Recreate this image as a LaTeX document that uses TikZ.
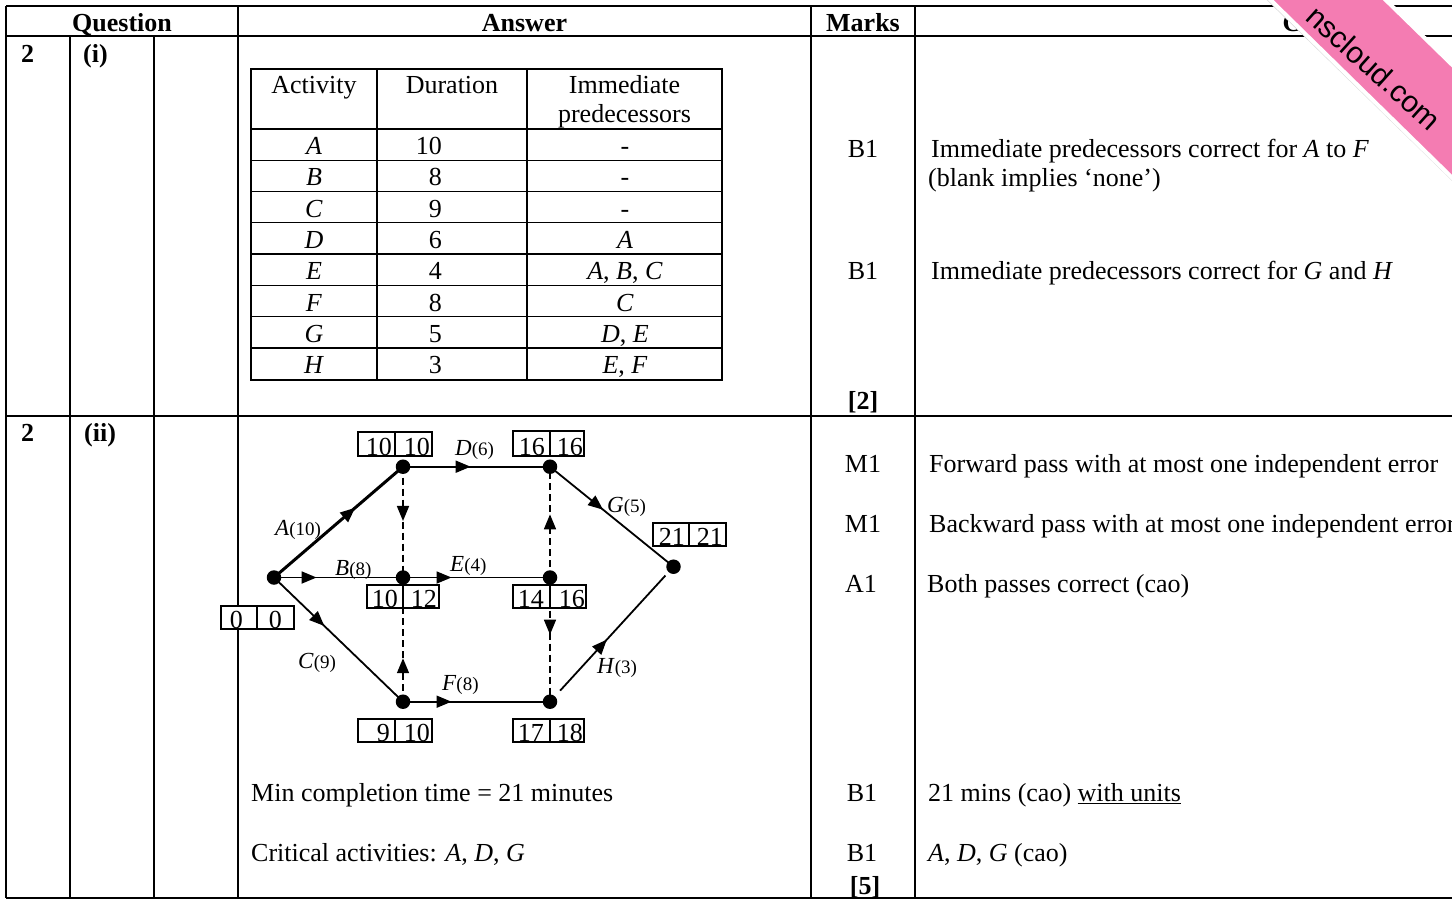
\documentclass[tikz,border=0pt]{standalone}
\usepackage{fontspec}
\setmainfont{Liberation Serif}
\newfontfamily\wmfont{Liberation Sans}
\usetikzlibrary{arrows.meta,decorations.markings}
\definecolor{wmpink}{RGB}{244,124,178}
\newcommand\smallpar[1]{{\fontsize{19}{22}\selectfont #1}}
\begin{document}
\begin{tikzpicture}[x=1pt,y=-1pt,
  txt/.style={inner sep=0pt, font=\fontsize{26}{31}\selectfont},
  bld/.style={inner sep=0pt, font=\fontsize{26}{31}\selectfont\bfseries},
  gridline/.style={line width=1.3pt},
  tabline/.style={line width=1.2pt},
  boxline/.style={line width=1.2pt, fill=white},
  dot/.style={circle, fill=black, inner sep=0pt, minimum size=14.5pt},
  act/.style={line width=1.8pt},
  dum/.style={line width=1.6pt, dash pattern=on 7pt off 4pt},
  tipat/.style={postaction={decorate}, decoration={markings, mark=at position #1 with {\arrow{Triangle[length=15pt,width=12pt]}}}},
  lab/.style={inner sep=0pt, anchor=base west, font=\fontsize{23}{27}\selectfont},
  num/.style={inner sep=0pt, anchor=base east, font=\fontsize{26}{31}\selectfont},
]
\useasboundingbox (0,0) rectangle (1452,900);
\clip (0,0) rectangle (1452,900);
\fill[white] (0,0) rectangle (1452,900);

% ---------- grid ----------
\draw[gridline] (6,6) -- (1460,6);
\draw[gridline] (6,36) -- (1460,36);
\draw[gridline] (6,416) -- (1460,416);
\draw[gridline] (6,898) -- (1460,898);
\draw[gridline] (6,6) -- (6,898);
\draw[gridline] (70,36) -- (70,898);
\draw[gridline] (154,36) -- (154,898);
\draw[gridline] (238,6) -- (238,898);
\draw[gridline] (811,6) -- (811,898);
\draw[gridline] (915,6) -- (915,898);

% ---------- headers ----------
\node[bld, anchor=base] (hq) at (122,31.5) {Question};
\node[bld, anchor=base] (ha) at (524.5,31.5) {Answer};
\node[bld, anchor=base] (hm) at (863,31.5) {Marks};
\node[bld, anchor=base] (hg) at (1336,31.5) {Guidance};

\node[bld, anchor=base west] (q1) at (21,62.5) {2};
\node[bld, anchor=base west] (p1) at (83,62.5) {(i)};
\node[bld, anchor=base west] (q2) at (21,441.5) {2};
\node[bld, anchor=base west] (p2) at (84,441.5) {(ii)};

% ---------- table ----------
\draw[tabline] (251,69) rectangle (722,380);
\draw[tabline] (377,69) -- (377,380);
\draw[tabline] (527,69) -- (527,380);
\foreach \yy in {129,160.5,191.7,222.8,254,285.3,316.6,348}
  \draw[tabline] (251,\yy) -- (722,\yy);
\node[txt, anchor=base] (th1) at (314,93) {Activity};
\node[txt, anchor=base] (th2) at (452,93) {Duration};
\node[txt, anchor=base] (th3) at (624.5,93) {Immediate};
\node[txt, anchor=base] (th4) at (624.5,122) {predecessors};
\foreach \a/\d/\p [count=\i from 0] in {A/10/-, B/8/-, C/9/-, D/6/\textit{A}, E/4/{\textit{A}, \textit{B}, \textit{C}}, F/8/\textit{C}, G/5/{\textit{D}, \textit{E}}, H/3/{\textit{E}, \textit{F}}}{
  \node[txt, anchor=base] (ta\i) at (314,{154.5+31.3*\i}) {\textit{\a}};
  \node[txt, anchor=base east] (td\i) at (442,{154.5+31.3*\i}) {\d};
  \node[txt, anchor=base] (tp\i) at (625,{154.5+31.3*\i}) {\p};
}

% ---------- marks & guidance (i) ----------
\node[txt, anchor=base] (m1) at (863,157.5) {B1};
\node[txt, anchor=base] (m2) at (863,279.5) {B1};
\node[bld, anchor=base] (m3) at (863,409) {[2]};
\node[txt, anchor=base west] (g1) at (931,157.5) {Immediate predecessors correct for \textit{A} to \textit{F}};
\node[txt, anchor=base west] (g2) at (928,186.5) {(blank implies ‘none’)};
\node[txt, anchor=base west] (g3) at (931,279.5) {Immediate predecessors correct for \textit{G} and \textit{H}};

% ---------- marks & guidance (ii) ----------
\node[txt, anchor=base] (m4) at (863,472.5) {M1};
\node[txt, anchor=base] (m5) at (863,532.5) {M1};
\node[txt, anchor=base] (m6) at (861,592.5) {A1};
\node[txt, anchor=base] (m7) at (862,801.5) {B1};
\node[txt, anchor=base] (m8) at (862,861.5) {B1};
\node[bld, anchor=base] (m9) at (865,894) {[5]};
\node[txt, anchor=base west] (g4) at (929,472.5) {Forward pass with at most one independent error};
\node[txt, anchor=base west] (g5) at (929,532.5) {Backward pass with at most one independent error};
\node[txt, anchor=base west] (g6) at (927,592.5) {Both passes correct (cao)};
\node[txt, anchor=base west] (g7) at (928,801.5) {21 mins (cao) \underline{with units}};
\node[txt, anchor=base west] (g8) at (928,861.5) {\textit{A}, \textit{D}, \textit{G} (cao)};

\node[txt, anchor=base west] (a1) at (251,801.5) {Min completion time = 21 minutes};
\node[txt, anchor=base west] (a2) at (251,861.5) {Critical activities: \textit{A}, \textit{D}, \textit{G}};

% ---------- network ----------
\node[dot] (S) at (274,577.5) {};
\node[dot] (N1) at (403,466.7) {};
\node[dot] (N2) at (403,577.5) {};
\node[dot] (N3) at (403,701.7) {};
\node[dot] (N4) at (550,466.7) {};
\node[dot] (N5) at (550,577.5) {};
\node[dot] (N6) at (550,701.7) {};
\node[dot] (N7) at (673.5,566.7) {};

\draw[act, line width=3pt, tipat=0.63] (S.center) -- (N1.center);
\draw[act, tipat=0.33] (S.center) -- (N2.center);
\draw[act, tipat=0.39] (S.center) -- (N3.center);
\draw[act, tipat=0.46] (N1.center) -- (N4.center);
\draw[act, tipat=0.33] (N2.center) -- (N5.center);
\draw[act, tipat=0.33] (N3.center) -- (N6.center);
\draw[act, tipat=0.43] (N4.center) -- (N7.center);
\draw[act, tipat=0.46, shorten <=15pt, shorten >=12pt] (N6.center) -- (N7.center);
\draw[dum, tipat=0.49] (N1.center) -- (N2.center);
\draw[dum, tipat=0.35] (N3.center) -- (N2.center);
\draw[dum, tipat=0.57] (N5.center) -- (N4.center);
\draw[dum, tipat=0.46] (N5.center) -- (N6.center);

% edge labels
\node[lab] (lA) at (275,535) {\textit{A}\smallpar{(10)}};
\node[lab] (lB) at (335,575) {\textit{B}\smallpar{(8)}};
\node[lab] (lC) at (298,668) {\textit{C}\smallpar{(9)}};
\node[lab] (lD) at (455,455) {\textit{D}\smallpar{(6)}};
\node[lab] (lE) at (450,571.5) {\textit{E}\smallpar{(4)}};
\node[lab] (lF) at (442,690) {\textit{F}\smallpar{(8)}};
\node[lab] (lG) at (607,512) {\textit{G}\smallpar{(5)}};
\node[lab] (lH) at (597,673) {\textit{H}\smallpar{(3)}};

% event boxes
\draw[boxline] (358,432) rectangle (395,456) (395,432) rectangle (432,456);
\node[num] (b1l) at (392,455.5) {10};
\node[num] (b1r) at (430,455.5) {10};
\draw[boxline] (513,431) rectangle (550,456) (550,431) rectangle (584,456);
\node[num] (b4l) at (545,455.5) {16};
\node[num] (b4r) at (583,455.5) {16};
\draw[boxline] (653,523) rectangle (689,546) (689,523) rectangle (726,546);
\node[num] (b7l) at (685,545.5) {21};
\node[num] (b7r) at (723,545.5) {21};
\draw[boxline] (367,585) rectangle (403,608) (403,585) rectangle (439,608);
\node[num] (b2l) at (398,607.5) {10};
\node[num] (b2r) at (437,607.5) {12};
\draw[boxline] (513,585) rectangle (550,608) (550,585) rectangle (586,608);
\node[num] (b5l) at (544,607.5) {14};
\node[num] (b5r) at (585,607.5) {16};
\draw[boxline] (221,606) rectangle (257,629) (257,606) rectangle (294,629);
\node[num] (b0l) at (243,628.5) {0};
\node[num] (b0r) at (282,628.5) {0};
\draw[boxline] (358,719) rectangle (395,742) (395,719) rectangle (432,742);
\node[num] (b3l) at (390,741.5) {9};
\node[num] (b3r) at (430,741.5) {10};
\draw[boxline] (513,719) rectangle (550,742) (550,719) rectangle (584,742);
\node[num] (b6l) at (544,741.5) {17};
\node[num] (b6r) at (583,741.5) {18};

% ---------- watermark ribbon ----------
\fill[black!15] (1236,-30) -- (1351,-30) -- (1484,96) -- (1484,212) -- cycle;
\path[fill=wmpink, draw=white, line width=4pt] (1240,-30) -- (1355,-30) -- (1480,92) -- (1480,205) -- cycle;
\node[inner sep=0pt, font=\wmfont\fontsize{30}{35}\selectfont, rotate=-42] (wm) at (1374,68) {nscloud.com};
\end{tikzpicture}
\end{document}
